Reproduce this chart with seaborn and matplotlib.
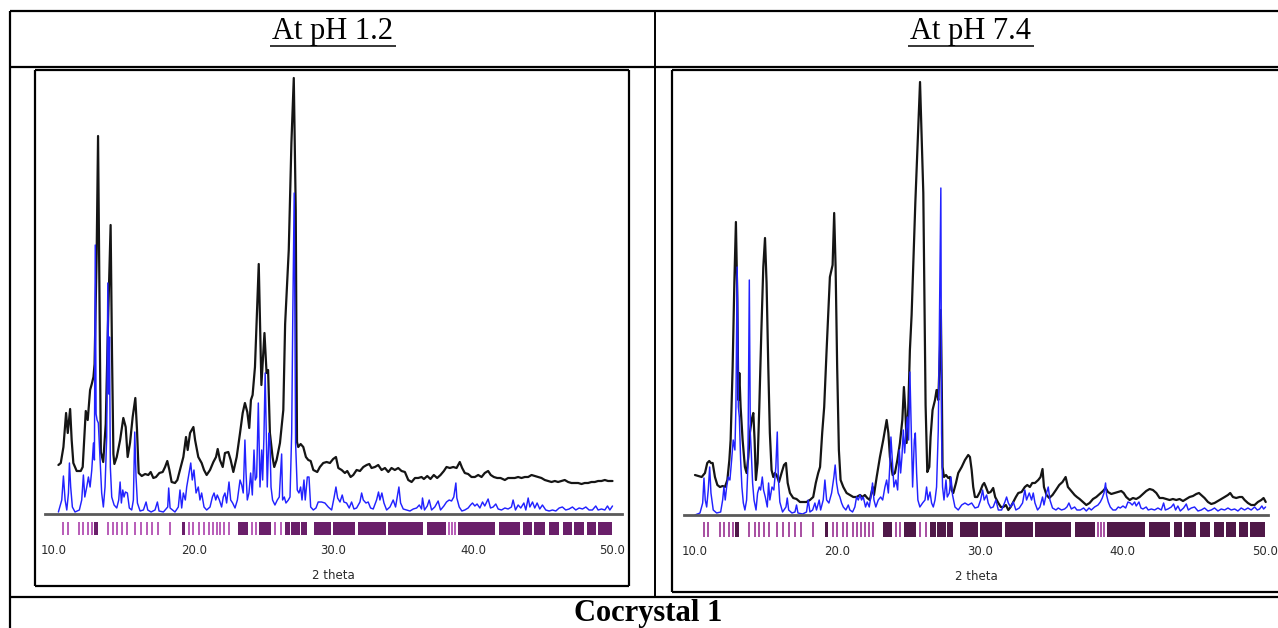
import matplotlib
matplotlib.use("Agg")
import matplotlib.pyplot as plt
import seaborn as sns
from matplotlib.lines import Line2D

sns.set_style("white")
plt.rcParams['font.family'] = ['DejaVu Sans']

W, H = 1278, 628

# ========================== data ==========================
# pH 1.2 : measured pattern (black)
PH12_EXP_2T = [10.31, 10.48, 10.67, 10.86, 10.98, 11.15, 11.26, 11.38, 11.62, 11.91, 12.05, 12.27, 12.41, 12.58,
               12.70, 12.82, 12.90, 13.05, 13.15, 13.25, 13.35, 13.52, 13.70, 13.88, 14.05, 14.15, 14.25, 14.32,
               14.49, 14.73, 14.96, 15.13, 15.27, 15.44, 15.63, 15.82, 15.94, 16.06, 16.28, 16.52, 16.75, 16.92,
               17.11, 17.30, 17.54, 17.78, 17.95, 18.11, 18.26, 18.42, 18.66, 18.83, 19.02, 19.26, 19.45, 19.57,
               19.74, 19.98, 20.10, 20.33, 20.57, 20.74, 20.93, 21.17, 21.41, 21.60, 21.72, 21.88, 22.08, 22.24,
               22.48, 22.65, 22.84, 23.08, 23.32, 23.51, 23.67, 23.84, 23.98, 24.10, 24.22, 24.39, 24.51, 24.66,
               24.85, 25.07, 25.22, 25.33, 25.46, 25.65, 25.77, 25.94, 26.18, 26.42, 26.55, 26.81, 27.00, 27.17,
               27.31, 27.40, 27.49, 27.66, 27.85, 28.04, 28.21, 28.38, 28.57, 28.85, 29.04, 29.28, 29.52, 29.76,
               29.99, 30.19, 30.36, 30.60, 30.83, 31.00, 31.24, 31.43, 31.67, 31.91, 32.15, 32.39, 32.58, 32.74,
               32.98, 33.22, 33.46, 33.70, 33.94, 34.17, 34.41, 34.65, 34.89, 35.13, 35.37, 35.61, 35.85, 36.08,
               36.32, 36.49, 36.73, 36.96, 37.20, 37.44, 37.68, 37.92, 38.11, 38.35, 38.59, 38.83, 39.06, 39.23,
               39.42, 39.66, 39.90, 40.14, 40.38, 40.62, 40.85, 41.09, 41.28, 41.50, 41.74, 41.98, 42.29, 42.52,
               42.76, 43.00, 43.24, 43.48, 43.72, 43.96, 44.20, 44.43, 44.67, 44.91, 45.15, 45.39, 45.63, 45.87,
               46.10, 46.34, 46.58, 46.82, 47.06, 47.30, 47.54, 47.78, 48.01, 48.25, 48.49, 48.73, 48.97, 49.21,
               49.45, 49.68, 50.00]
PH12_EXP_I = [49, 51, 67, 101, 81, 105, 74, 51, 43, 43, 47, 103, 94, 124,
              130, 137, 150, 260, 378, 220, 62, 52, 90, 200, 289, 160, 60, 50,
              57, 74, 96, 87, 57, 71, 97, 116, 84, 41, 38, 40, 39, 42,
              36, 37, 41, 42, 47, 53, 44, 32, 31, 34, 44, 57, 77, 64,
              81, 87, 74, 57, 51, 44, 39, 44, 52, 57, 65, 54, 47, 61,
              62, 54, 42, 57, 81, 101, 111, 102, 86, 114, 119, 147, 194, 250,
              129, 181, 141, 144, 81, 57, 47, 54, 71, 104, 190, 264, 371, 436,
              304, 72, 67, 70, 67, 57, 54, 53, 44, 42, 47, 51, 52, 51,
              55, 57, 46, 44, 41, 43, 37, 39, 44, 43, 47, 49, 50, 46,
              47, 49, 44, 46, 42, 46, 44, 46, 43, 42, 34, 32, 36, 36,
              37, 35, 38, 35, 39, 36, 39, 43, 47, 46, 47, 46, 52, 46,
              41, 40, 37, 37, 39, 37, 41, 43, 39, 37, 36, 36, 34, 36,
              36, 36, 37, 36, 37, 37, 39, 38, 37, 36, 34, 33, 32, 33,
              32, 33, 34, 32, 31, 31, 31, 30, 31, 31, 32, 32, 33, 33,
              34, 33, 33]

# pH 1.2 : simulated pattern (blue)
PH12_SIM_2T = [10.31, 10.55, 10.67, 10.79, 10.91, 11.03, 11.10, 11.19, 11.31, 11.50, 11.81, 11.98, 12.10, 12.20,
               12.34, 12.46, 12.58, 12.70, 12.82, 12.89, 12.95, 13.01, 13.08, 13.17, 13.29, 13.41, 13.53, 13.65,
               13.77, 13.85, 13.91, 13.97, 14.03, 14.13, 14.30, 14.49, 14.63, 14.73, 14.82, 14.92, 15.01, 15.11,
               15.25, 15.39, 15.56, 15.68, 15.78, 15.87, 15.97, 16.16, 16.40, 16.59, 16.71, 16.95, 17.23, 17.40,
               17.52, 17.83, 18.14, 18.21, 18.31, 18.66, 18.90, 19.02, 19.14, 19.26, 19.40, 19.50, 19.67, 19.79,
               19.90, 20.02, 20.17, 20.33, 20.45, 20.57, 20.74, 20.93, 21.17, 21.34, 21.46, 21.58, 21.69, 21.84,
               22.00, 22.12, 22.24, 22.36, 22.53, 22.65, 22.79, 22.96, 23.13, 23.32, 23.44, 23.55, 23.67, 23.75,
               23.84, 23.96, 24.08, 24.20, 24.32, 24.41, 24.51, 24.63, 24.75, 24.87, 24.94, 25.03, 25.12, 25.27,
               25.39, 25.46, 25.54, 25.65, 25.82, 25.99, 26.13, 26.30, 26.37, 26.49, 26.61, 26.78, 26.90, 27.02,
               27.10, 27.20, 27.30, 27.42, 27.54, 27.66, 27.76, 27.90, 27.99, 28.14, 28.26, 28.38, 28.57, 28.76,
               28.92, 29.16, 29.40, 29.64, 29.88, 30.05, 30.19, 30.31, 30.48, 30.64, 30.76, 30.95, 31.14, 31.31,
               31.48, 31.67, 31.91, 32.03, 32.15, 32.34, 32.50, 32.67, 32.86, 33.10, 33.24, 33.34, 33.48, 33.63,
               33.82, 34.06, 34.29, 34.46, 34.70, 34.82, 35.01, 35.25, 35.49, 35.73, 35.97, 36.16, 36.32, 36.39,
               36.53, 36.73, 36.87, 37.04, 37.27, 37.51, 37.68, 37.92, 38.11, 38.30, 38.47, 38.63, 38.78, 38.85,
               39.02, 39.21, 39.42, 39.66, 39.83, 39.97, 40.14, 40.30, 40.50, 40.69, 40.85, 41.09, 41.26, 41.45,
               41.64, 41.81, 42.05, 42.29, 42.52, 42.76, 42.88, 43.05, 43.24, 43.43, 43.65, 43.79, 43.96, 44.08,
               44.27, 44.43, 44.60, 44.79, 44.98, 45.22, 45.46, 45.70, 45.94, 46.18, 46.41, 46.65, 46.89, 47.13,
               47.37, 47.61, 47.85, 48.09, 48.32, 48.56, 48.80, 48.97, 49.21, 49.45, 49.64, 49.81, 50.00]
PH12_SIM_I = [2, 14, 38, 14, 4, 21, 51, 27, 7, 2, 4, 14, 39, 17,
              27, 37, 27, 44, 71, 54, 269, 100, 94, 91, 57, 21, 7, 27,
              77, 231, 120, 177, 47, 17, 9, 6, 14, 32, 11, 24, 17, 22,
              21, 6, 4, 14, 82, 37, 11, 3, 4, 12, 4, 2, 4, 12,
              3, 2, 7, 26, 6, 2, 7, 24, 6, 21, 14, 27, 41, 51,
              34, 44, 21, 27, 14, 21, 7, 4, 7, 17, 21, 14, 19, 14,
              7, 17, 21, 11, 32, 14, 11, 6, 14, 34, 29, 21, 74, 41,
              14, 21, 41, 19, 64, 34, 37, 111, 27, 64, 34, 76, 141, 27,
              81, 74, 27, 14, 9, 14, 17, 60, 14, 17, 11, 14, 17, 81,
              200, 321, 71, 24, 21, 27, 14, 34, 14, 37, 37, 7, 4, 6,
              12, 12, 11, 7, 4, 16, 27, 16, 12, 19, 12, 11, 6, 12,
              5, 6, 12, 21, 14, 11, 12, 6, 5, 14, 22, 14, 21, 11,
              4, 7, 14, 7, 27, 11, 5, 4, 3, 5, 6, 9, 5, 16,
              4, 8, 14, 4, 7, 13, 4, 8, 12, 14, 13, 17, 31, 16,
              7, 3, 4, 6, 9, 11, 8, 10, 6, 12, 8, 15, 6, 7,
              10, 5, 4, 6, 5, 7, 14, 4, 9, 6, 11, 4, 16, 7,
              12, 6, 11, 5, 9, 4, 3, 4, 3, 6, 7, 4, 5, 7,
              4, 6, 5, 7, 4, 4, 8, 4, 5, 4, 8, 4, 8]

# pH 7.4 : measured pattern (black)
PH74_EXP_2T = [10.03, 10.26, 10.50, 10.73, 10.89, 11.03, 11.15, 11.27, 11.43, 11.60, 11.78, 11.97, 12.13, 12.30,
               12.44, 12.53, 12.67, 12.79, 12.90, 13.00, 13.07, 13.14, 13.23, 13.37, 13.53, 13.65, 13.77, 13.88,
               14.00, 14.12, 14.21, 14.30, 14.42, 14.54, 14.68, 14.82, 14.94, 15.05, 15.17, 15.28, 15.40, 15.52,
               15.64, 15.75, 15.92, 16.10, 16.27, 16.41, 16.53, 16.69, 16.92, 17.15, 17.39, 17.62, 17.85, 18.09,
               18.32, 18.50, 18.67, 18.80, 18.95, 19.09, 19.26, 19.49, 19.60, 19.68, 19.79, 19.89, 20.00, 20.12,
               20.24, 20.43, 20.66, 20.89, 21.13, 21.36, 21.60, 21.78, 21.94, 22.11, 22.29, 22.49, 22.58, 22.77,
               23.00, 23.23, 23.47, 23.59, 23.70, 23.89, 24.05, 24.22, 24.40, 24.57, 24.68, 24.78, 24.87, 24.99,
               25.10, 25.22, 25.48, 25.81, 26.04, 26.20, 26.32, 26.46, 26.55, 26.69, 26.86, 26.97, 27.09, 27.21,
               27.27, 27.34, 27.39, 27.49, 27.63, 27.79, 27.91, 28.02, 28.14, 28.33, 28.49, 28.73, 28.96, 29.19,
               29.31, 29.43, 29.54, 29.66, 29.82, 30.01, 30.20, 30.31, 30.43, 30.59, 30.76, 30.94, 31.08, 31.30,
               31.48, 31.65, 31.83, 32.00, 32.16, 32.35, 32.53, 32.70, 32.93, 33.16, 33.33, 33.51, 33.68, 33.87,
               34.10, 34.26, 34.40, 34.50, 34.68, 34.87, 35.10, 35.34, 35.57, 35.80, 36.02, 36.18, 36.42, 36.65,
               36.81, 37.00, 37.24, 37.47, 37.70, 37.94, 38.17, 38.40, 38.64, 38.82, 38.99, 39.22, 39.46, 39.69,
               39.92, 40.09, 40.27, 40.51, 40.74, 40.97, 41.21, 41.44, 41.67, 41.91, 42.14, 42.38, 42.61, 42.84,
               43.08, 43.31, 43.54, 43.78, 44.01, 44.25, 44.48, 44.71, 44.95, 45.18, 45.37, 45.53, 45.76, 46.00,
               46.23, 46.46, 46.70, 46.93, 47.17, 47.40, 47.56, 47.75, 47.98, 48.22, 48.40, 48.57, 48.80, 49.03,
               49.27, 49.50, 49.74, 49.90, 50.05]
PH74_EXP_I = [40, 39, 38, 42, 52, 54, 52, 52, 38, 30, 28, 29, 28, 35,
              55, 75, 148, 232, 293, 215, 115, 142, 108, 75, 48, 42, 58, 82,
              95, 102, 75, 35, 52, 108, 182, 248, 277, 232, 148, 82, 45, 38,
              42, 40, 33, 42, 50, 52, 32, 22, 17, 16, 13, 13, 13, 15,
              18, 32, 42, 48, 82, 108, 165, 238, 245, 250, 302, 248, 148, 65,
              35, 28, 22, 20, 18, 18, 20, 18, 20, 17, 15, 28, 20, 38,
              58, 75, 95, 82, 58, 40, 42, 55, 72, 95, 128, 105, 72, 108,
              165, 200, 312, 433, 322, 110, 43, 48, 78, 105, 115, 125, 115, 165,
              205, 122, 48, 38, 40, 37, 38, 25, 22, 32, 42, 48, 55, 60,
              58, 45, 28, 18, 18, 23, 30, 32, 28, 22, 23, 27, 18, 12,
              8, 8, 10, 5, 8, 13, 18, 22, 23, 28, 30, 28, 32, 32,
              35, 38, 46, 28, 20, 17, 20, 25, 30, 33, 38, 28, 24, 20,
              18, 16, 13, 10, 12, 16, 18, 21, 24, 27, 23, 21, 22, 23,
              24, 22, 18, 15, 17, 16, 18, 21, 24, 26, 25, 22, 17, 17,
              16, 15, 16, 15, 16, 14, 16, 18, 19, 21, 22, 20, 17, 13,
              11, 12, 14, 16, 18, 20, 22, 18, 17, 18, 18, 15, 12, 10,
              10, 13, 15, 17, 13]

# pH 7.4 : simulated pattern (blue)
PH74_SIM_2T = [10.03, 10.38, 10.57, 10.66, 10.75, 10.85, 10.96, 11.06, 11.15, 11.31, 11.55, 11.83, 11.97, 12.06,
               12.15, 12.25, 12.36, 12.48, 12.60, 12.71, 12.83, 12.90, 12.99, 13.07, 13.14, 13.23, 13.32, 13.42,
               13.53, 13.65, 13.74, 13.84, 13.91, 13.98, 14.07, 14.17, 14.31, 14.42, 14.54, 14.63, 14.75, 14.84,
               14.96, 15.10, 15.19, 15.28, 15.43, 15.56, 15.70, 15.80, 15.87, 15.98, 16.17, 16.41, 16.50, 16.60,
               16.83, 17.04, 17.15, 17.25, 17.58, 17.85, 17.97, 18.09, 18.28, 18.44, 18.55, 18.74, 18.84, 19.02,
               19.14, 19.26, 19.42, 19.61, 19.77, 19.86, 19.96, 20.07, 20.19, 20.31, 20.43, 20.61, 20.78, 20.89,
               21.08, 21.24, 21.36, 21.48, 21.60, 21.71, 21.83, 21.99, 22.11, 22.25, 22.41, 22.48, 22.58, 22.71,
               22.88, 23.05, 23.19, 23.35, 23.47, 23.59, 23.70, 23.77, 23.87, 23.98, 24.12, 24.24, 24.36, 24.45,
               24.54, 24.64, 24.73, 24.82, 24.92, 25.01, 25.10, 25.20, 25.29, 25.41, 25.48, 25.57, 25.66, 25.80,
               25.99, 26.16, 26.27, 26.37, 26.51, 26.62, 26.74, 26.86, 26.97, 27.09, 27.16, 27.27, 27.32, 27.39,
               27.49, 27.63, 27.72, 27.86, 27.98, 28.09, 28.26, 28.49, 28.73, 28.96, 29.19, 29.43, 29.66, 29.89,
               30.06, 30.20, 30.31, 30.48, 30.59, 30.76, 30.94, 31.13, 31.30, 31.53, 31.76, 31.88, 32.00, 32.16,
               32.35, 32.53, 32.77, 33.00, 33.16, 33.28, 33.47, 33.63, 33.75, 33.87, 34.05, 34.22, 34.40, 34.50,
               34.68, 34.80, 34.92, 35.10, 35.34, 35.50, 35.73, 35.95, 36.11, 36.25, 36.42, 36.65, 36.81, 37.05,
               37.28, 37.47, 37.66, 37.82, 38.05, 38.29, 38.45, 38.59, 38.71, 38.82, 38.89, 39.01, 39.15, 39.34,
               39.53, 39.71, 39.85, 40.04, 40.23, 40.39, 40.55, 40.69, 40.86, 40.97, 41.16, 41.30, 41.44, 41.67,
               41.81, 42.03, 42.26, 42.49, 42.73, 42.89, 43.01, 43.19, 43.43, 43.59, 43.73, 43.89, 44.06, 44.29,
               44.48, 44.62, 44.83, 45.06, 45.30, 45.53, 45.76, 46.00, 46.23, 46.46, 46.70, 46.93, 47.17, 47.40,
               47.63, 47.87, 48.10, 48.33, 48.57, 48.80, 49.03, 49.27, 49.46, 49.62, 49.78, 49.90, 50.04]
PH74_SIM_I = [0, 2, 12, 37, 15, 8, 25, 48, 22, 5, 2, 3, 15, 28,
              15, 28, 38, 35, 55, 75, 65, 108, 248, 108, 98, 55, 28, 12,
              5, 15, 48, 235, 82, 62, 32, 15, 5, 22, 28, 25, 38, 25,
              18, 8, 32, 15, 28, 25, 48, 83, 38, 13, 3, 8, 17, 5,
              2, 3, 10, 2, 1, 3, 15, 3, 5, 12, 5, 15, 5, 15,
              35, 15, 12, 22, 38, 50, 32, 22, 18, 12, 8, 5, 10, 5,
              3, 8, 18, 15, 20, 15, 18, 8, 13, 8, 23, 32, 15, 8,
              15, 18, 15, 28, 35, 22, 52, 78, 55, 28, 35, 25, 65, 42,
              58, 85, 62, 82, 98, 75, 143, 82, 28, 75, 82, 42, 15, 8,
              12, 15, 28, 15, 23, 12, 8, 15, 28, 85, 182, 327, 82, 28,
              15, 35, 18, 22, 38, 20, 8, 5, 10, 12, 10, 12, 7, 8,
              15, 25, 15, 20, 12, 7, 8, 15, 5, 5, 13, 18, 12, 8,
              13, 5, 7, 12, 25, 15, 22, 15, 22, 12, 5, 8, 18, 10,
              22, 28, 15, 7, 5, 7, 5, 6, 8, 12, 6, 8, 5, 5,
              7, 4, 7, 5, 8, 10, 13, 17, 22, 32, 20, 13, 8, 5,
              5, 8, 7, 9, 7, 13, 12, 10, 13, 9, 13, 7, 6, 8,
              5, 6, 5, 7, 5, 12, 5, 6, 8, 11, 5, 9, 4, 7,
              11, 5, 7, 8, 4, 5, 7, 4, 5, 7, 4, 6, 5, 7,
              5, 6, 4, 7, 5, 7, 5, 8, 5, 6, 9, 6, 8]

# reference reflection positions (purple marks under the axis)
REFL_SINGLE = [10.64, 10.97, 11.81, 12.09, 12.45, 12.73, 13.84, 14.21, 14.54, 14.87, 15.24, 15.79, 16.21,
               16.63, 17.05, 17.47, 18.30, 19.69, 19.97, 20.39, 20.72, 21.09, 21.36, 21.64, 21.92, 22.20,
               22.53, 24.15, 24.43, 25.82, 26.24, 38.30, 38.50, 38.70]
REFL_BLOCK_START = [12.87, 19.14, 23.18, 24.71, 26.52, 27.00, 27.70, 28.61, 30.00, 31.75, 33.90, 36.69, 38.91,
                    41.84, 43.59, 44.35, 45.46, 46.43, 47.27, 48.19, 48.94]
REFL_BLOCK_END = [13.15, 19.36, 23.87, 25.54, 26.90, 27.60, 28.10, 29.86, 31.53, 33.76, 36.41, 38.08, 41.56,
                  43.37, 44.21, 45.18, 46.16, 47.13, 47.97, 48.80, 49.97]

XTICKS = [10, 20, 30, 40, 50]
XTICK_LABELS = ["10.0", "20.0", "30.0", "40.0", "50.0"]
HEADERS = ["At pH 1.2", "At pH 7.4"]
FOOTER = "Cocrystal 1"

BLACK = '#151515'
BLUE = '#2222ff'


def fx(px):
    return px / W


def fy(py):
    return 1 - py / H


def fig_line(fig, x0, y0, x1, y1, lw=1.4, color='black'):
    fig.add_artist(Line2D([fx(x0), fx(x1)], [fy(y0), fy(y1)], transform=fig.transFigure,
                          color=color, lw=lw, solid_capstyle='butt'))


def draw_panel(ax, exp_2t, exp_i, sim_2t, sim_i, xlim, ylim, refl_y, block_color, single_color):
    sns.lineplot(x=exp_2t, y=exp_i, ax=ax, color=BLACK, lw=1.6, estimator=None, sort=False)
    sns.lineplot(x=sim_2t, y=sim_i, ax=ax, color=BLUE, lw=1.05, estimator=None, sort=False)
    y0, y1 = refl_y
    ax.vlines(REFL_SINGLE, y0, y1, color=single_color, lw=1.3)
    blocks = [(s, e - s) for s, e in zip(REFL_BLOCK_START, REFL_BLOCK_END)]
    ax.broken_barh(blocks, (y0, y1 - y0), facecolor=block_color, edgecolor='none')
    ax.set_xlim(*xlim)
    ax.set_ylim(*ylim)
    for side in ['top', 'left', 'right']:
        ax.spines[side].set_visible(False)
    ax.spines['bottom'].set_position(('data', 0))
    ax.spines['bottom'].set_color('#5a5a5a')
    ax.spines['bottom'].set_linewidth(2.0)
    ax.set_xticks(XTICKS)
    ax.set_xticklabels(XTICK_LABELS)
    ax.set_yticks([])
    ax.tick_params(axis='x', direction='out', length=19.5, width=1.3, color='#5a5a5a',
                   labelsize=8.5, labelcolor='#2a2a2a', pad=2)
    ax.set_xlabel("2 theta", fontsize=8.5, color='#2a2a2a', labelpad=9)
    ax.set_ylabel("")
    ax.patch.set_alpha(0)


fig = plt.figure(figsize=(W / 100, H / 100), dpi=100)

# left panel  (10 -> px 54.1, 50 -> px 612.5, zero line at py 514)
ax_l = fig.add_axes([fx(45), fy(540), (622 - 45) / W, (540 - 72) / H])
draw_panel(ax_l, PH12_EXP_2T, PH12_EXP_I, PH12_SIM_2T, PH12_SIM_I,
           (9.35, 50.68), (-26, 442), (-21, -8), '#6a1f6a', '#b24fb2')

# right panel (10 -> px 694.6, 50 -> px 1265, zero line at py 515)
ax_r = fig.add_axes([fx(684), fy(545), (1268 - 684) / W, (545 - 72) / H])
draw_panel(ax_r, PH74_EXP_2T, PH74_EXP_I, PH74_SIM_2T, PH74_SIM_I,
           (9.26, 50.21), (-30, 443), (-22, -7), '#4f1848', '#a0409a')

# table grid
fig_line(fig, 10, 11, W, 11, lw=1.6)
fig_line(fig, 10, 67, W, 67, lw=1.6)
fig_line(fig, 10, 597, W, 597, lw=1.6)
fig_line(fig, 10, 11, 10, H, lw=1.6)
fig_line(fig, 655, 11, 655, 597, lw=1.4)

# frames around the two pictures
fig_line(fig, 35, 70, 629, 70, lw=1.6)
fig_line(fig, 35, 586, 629, 586, lw=1.6)
fig_line(fig, 35, 70, 35, 586, lw=1.6)
fig_line(fig, 629, 70, 629, 586, lw=1.6)
fig_line(fig, 672, 70, W, 70, lw=1.6)
fig_line(fig, 672, 592, W, 592, lw=1.6)
fig_line(fig, 672, 70, 672, 592, lw=1.6)

# headers (underlined) and footer
for text, cx in zip(HEADERS, [333, 971]):
    fig.text(fx(cx), fy(32), text, ha='center', va='center', fontsize=22,
             family=['Liberation Serif', 'DejaVu Serif'], color='black')
    fig_line(fig, cx - 63, 46, cx + 63, 46, lw=1.1)
fig.text(fx(648), fy(614), FOOTER, ha='center', va='center', fontsize=22, fontweight='bold',
         family=['Liberation Serif', 'DejaVu Serif'], color='black')

fig.savefig("out.png", dpi=100)
